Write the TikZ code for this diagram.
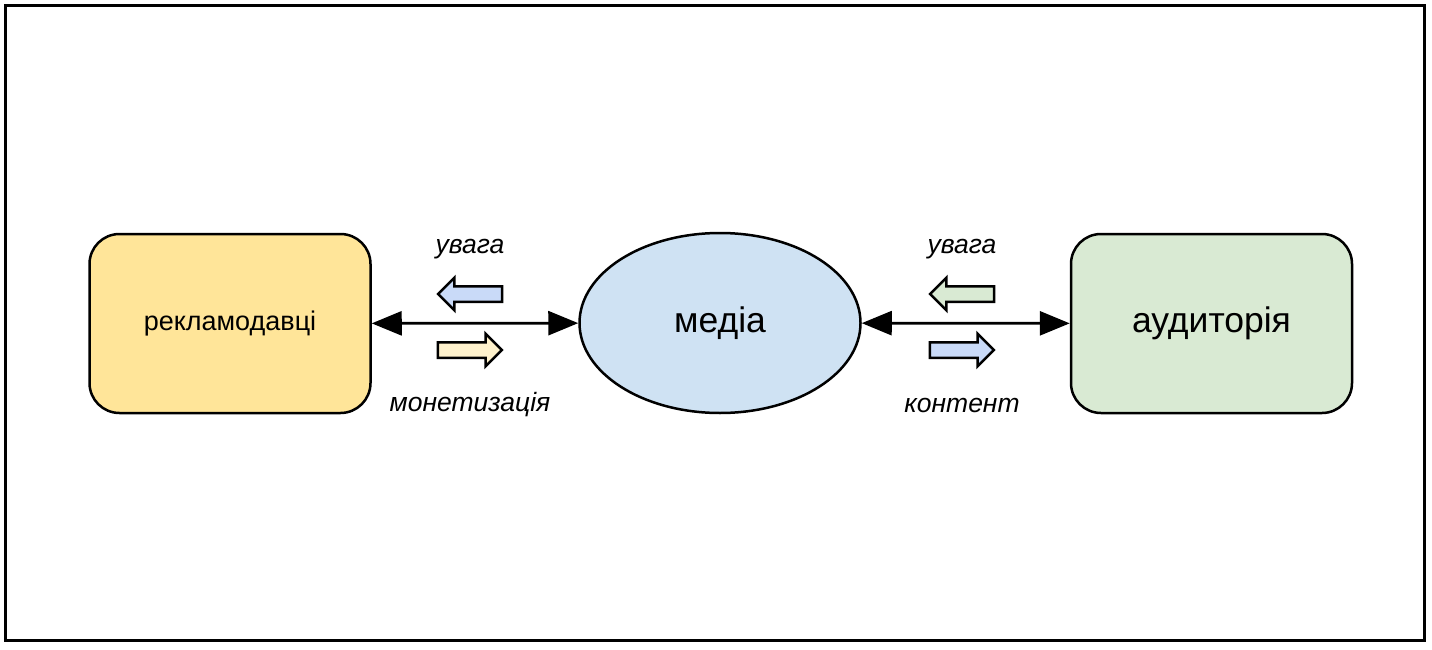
\documentclass[tikz,border=0pt]{standalone}
\usepackage{fontspec}
\setmainfont{Liberation Sans}
\usetikzlibrary{shapes.geometric,shapes.arrows,arrows.meta}
\definecolor{boxyellow}{HTML}{FFE599}
\definecolor{boxblue}{HTML}{CFE2F3}
\definecolor{boxgreen}{HTML}{D9EAD3}
\definecolor{flowblue}{HTML}{C9DAF8}
\definecolor{flowyellow}{HTML}{FFF2CC}
\begin{document}
\begin{tikzpicture}[x=1pt,y=-1pt,
    >={Triangle[length=30pt,width=24pt]},
    party/.style={draw,line width=2.5pt,rounded corners=30pt,minimum width=281pt,minimum height=179pt},
    flow/.style={single arrow,draw,line width=2.5pt,inner xsep=0pt,inner ysep=6.5pt,minimum height=64pt,single arrow head extend=8.5pt},
    tag/.style={font=\fontsize{26.5}{30}\selectfont\itshape},
    link/.style={line width=2.8pt,<->}]
  \useasboundingbox (0,0) rectangle (1432,650);
  \draw[line width=3pt] (5,6) rectangle (1424,640);

  \node[party,fill=boxyellow,font=\fontsize{27}{32}\selectfont] (adv) at (230,323.5) {рекламодавці};
  \node[ellipse,draw,line width=2.5pt,fill=boxblue,minimum width=281pt,minimum height=180pt,
    font=\fontsize{35.5}{40}\selectfont] (media) at (720,323) {медіа};
  \node[party,fill=boxgreen,font=\fontsize{35.5}{40}\selectfont] (aud) at (1211.5,323.5) {аудиторія};

  \draw[link] (adv) -- (media);
  \draw[link] (media) -- (aud);

  \node[flow,fill=flowblue,shape border rotate=180] (attl) at (474,294) {};
  \node[flow,fill=flowyellow] (monl) at (466,350) {};
  \node[flow,fill=boxgreen,shape border rotate=180] (attr) at (966,294) {};
  \node[flow,fill=flowblue] (conr) at (958,350) {};

  \node[tag] (tattl) at (470,249) {увага};
  \node[tag] (tmonl) at (470,405) {монетизація};
  \node[tag] (tattr) at (962,249) {увага};
  \node[tag] (tconr) at (962,405) {контент};
\end{tikzpicture}
\end{document}
